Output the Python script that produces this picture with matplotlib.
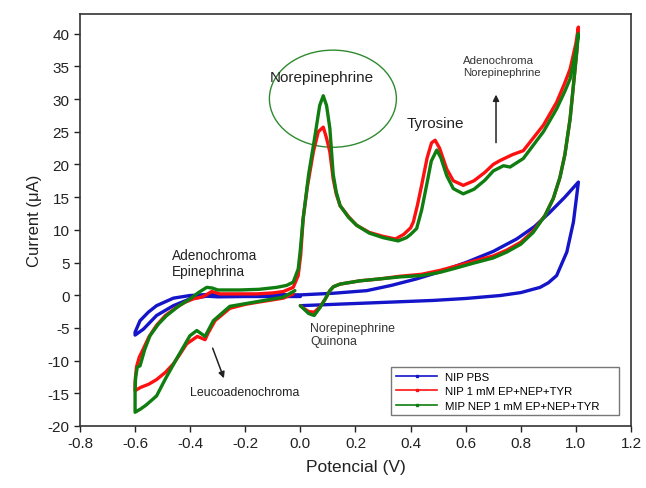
import matplotlib
matplotlib.use('Agg')
import matplotlib.pyplot as plt
from matplotlib.patches import Ellipse
from matplotlib.lines import Line2D

plt.rcParams['font.family'] = ['Liberation Sans', 'DejaVu Sans']
plt.rcParams['axes.unicode_minus'] = False

# NIP PBS (blue): cathodic 0 -> -0.6, anodic -0.6 -> 1.0, cathodic 1.0 -> 0
blue_x = [0.0, -0.1, -0.2, -0.3, -0.34, -0.401, -0.461, -0.522, -0.570, -0.600,
          -0.600, -0.582, -0.552, -0.522, -0.461, -0.401, -0.34, -0.2, -0.1, 0.0,
          0.12, 0.241, 0.33, 0.422, 0.5, 0.604, 0.7, 0.785, 0.85, 0.906, 0.96, 1.009,
          1.003, 0.991, 0.967, 0.93, 0.90, 0.870, 0.80, 0.725, 0.60, 0.482, 0.241, 0.0]
blue_y = [-0.2, -0.2, -0.2, -0.25, -0.15, -0.56, -1.6, -3.1, -5.2, -6.1,
          -5.66, -3.9, -2.6, -1.6, -0.45, -0.05, 0.1, 0.1, 0.1, 0.05,
          0.3, 0.7, 1.5, 2.5, 3.5, 5.05, 6.7, 8.6, 10.5, 12.7, 15.0, 17.3,
          15.25, 11.2, 6.6, 3.0, 1.9, 1.2, 0.4, -0.05, -0.5, -0.8, -1.2, -1.6]

# NIP 1 mM EP+NEP+TYR (red)
red_x = [-0.026, -0.062, -0.159, -0.20, -0.256, -0.310, -0.335, -0.346, -0.374, -0.413,
         -0.44, -0.461, -0.49, -0.522, -0.55, -0.58, -0.600,
         -0.600, -0.595, -0.585, -0.57, -0.55, -0.522, -0.49, -0.449, -0.42, -0.389,
         -0.36, -0.346, -0.322, -0.292, -0.22, -0.159, -0.10, -0.062, -0.026, -0.008,
         0.001, 0.01, 0.025, 0.047, 0.065, 0.083, 0.095, 0.107, 0.119, 0.13, 0.144,
         0.175, 0.204, 0.25, 0.30, 0.345, 0.375, 0.40, 0.41, 0.425, 0.44, 0.46,
         0.476, 0.489, 0.505, 0.531, 0.555, 0.591, 0.63, 0.67, 0.70, 0.725, 0.77,
         0.809, 0.882, 0.93, 0.96, 0.979, 1.0, 1.009,
         1.003, 0.991, 0.979, 0.96, 0.942, 0.918, 0.888, 0.845, 0.80, 0.749, 0.70,
         0.628, 0.56, 0.507, 0.44, 0.362, 0.29, 0.216, 0.144, 0.12, 0.107, 0.09,
         0.071, 0.05, 0.03, 0.015, 0.0]
red_y = [0.2, -0.45, -1.1, -1.4, -2.0, -3.9, -5.8, -6.8, -6.3, -7.45,
         -9.2, -10.5, -11.8, -12.9, -13.6, -14.1, -14.6,
         -13.3, -11.0, -9.5, -8.2, -6.4, -4.6, -3.1, -1.85, -1.1, -0.56,
         -0.3, -0.05, 0.56, 0.2, 0.2, 0.2, 0.35, 0.56, 1.2, 3.0,
         6.1, 11.7, 16.5, 21.9, 25.0, 25.7, 24.0, 21.9, 17.8, 15.5, 13.7,
         12.0, 10.7, 9.6, 9.0, 8.6, 9.3, 10.3, 11.2, 13.8, 16.8, 21.0,
         23.3, 23.7, 22.5, 19.3, 17.5, 16.8, 17.5, 18.8, 20.0, 20.6, 21.5,
         22.1, 26.0, 29.5, 32.5, 34.6, 38.5, 41.0,
         37.2, 32.1, 27.0, 21.5, 18.0, 14.8, 12.2, 9.8, 8.1, 6.9, 6.0,
         5.2, 4.4, 3.8, 3.2, 2.9, 2.5, 2.2, 1.7, 1.3, 0.7, -0.6,
         -1.8, -2.6, -2.5, -2.1, -1.6]

# MIP NEP 1 mM EP+NEP+TYR (green)
green_x = [-0.020, -0.062, -0.159, -0.256, -0.316, -0.346, -0.376, -0.401, -0.449,
           -0.49, -0.522, -0.56, -0.58, -0.600,
           -0.600, -0.598, -0.592, -0.582, -0.565, -0.546, -0.515, -0.485, -0.44,
           -0.40, -0.37, -0.34, -0.32, -0.30, -0.219, -0.15, -0.086, -0.05, -0.026,
           -0.008, -0.001, 0.01, 0.03, 0.053, 0.07, 0.083, 0.095, 0.107, 0.119, 0.13,
           0.144, 0.175, 0.204, 0.25, 0.30, 0.355, 0.385, 0.40, 0.422, 0.44, 0.458,
           0.475, 0.495, 0.51, 0.531, 0.555, 0.591, 0.63, 0.67, 0.70, 0.737, 0.761,
           0.809, 0.882, 0.93, 0.96, 0.979, 1.0, 1.009,
           1.003, 0.991, 0.979, 0.96, 0.942, 0.918, 0.888, 0.845, 0.80, 0.749, 0.70,
           0.628, 0.56, 0.507, 0.44, 0.362, 0.29, 0.216, 0.144, 0.12, 0.107, 0.09,
           0.071, 0.05, 0.03, 0.015, 0.0]
green_y = [0.7, -0.3, -1.0, -1.7, -3.9, -6.3, -5.4, -6.2, -9.7,
           -12.8, -15.4, -16.8, -17.4, -17.9,
           -14.5, -12.5, -11.0, -10.8, -8.3, -6.2, -4.4, -3.1, -1.6,
           -0.56, 0.4, 1.2, 1.1, 0.8, 0.8, 0.9, 1.2, 1.5, 2.0,
           4.0, 6.6, 11.7, 18.5, 24.4, 29.0, 30.5, 29.0, 25.5, 18.5, 15.8,
           13.7, 11.9, 10.7, 9.5, 8.8, 8.3, 8.8, 9.3, 10.2, 13.0, 16.8,
           20.5, 22.2, 21.0, 18.3, 16.3, 15.5, 16.2, 17.6, 19.0, 19.8, 19.6,
           20.9, 25.0, 28.5, 31.2, 33.1, 37.5, 40.0,
           37.2, 32.1, 27.0, 21.5, 18.0, 14.8, 12.2, 9.6, 7.8, 6.6, 5.7,
           4.9, 4.1, 3.5, 3.0, 2.8, 2.5, 2.2, 1.7, 1.3, 0.7, -0.6,
           -1.9, -3.1, -2.8, -2.2, -1.6]

labels = ['NIP PBS', 'NIP 1 mM EP+NEP+TYR', 'MIP NEP 1 mM EP+NEP+TYR']
colors = ['#1414c8', '#ff1010', '#0f7d0f']

fig = plt.figure(figsize=(6.46, 4.89), dpi=100)
ax = fig.add_axes([0.1238, 0.1268, 0.8530, 0.8425])

for xs, ys, c in [(blue_x, blue_y, colors[0]), (red_x, red_y, colors[1]),
                  (green_x, green_y, colors[2])]:
    ax.plot(xs, ys, color=c, lw=2.4, solid_joinstyle='round', solid_capstyle='round')

ax.set_xlim(-0.8, 1.2)
ax.set_ylim(-20, 43)
ax.set_xticks([-0.8, -0.6, -0.4, -0.2, 0.0, 0.2, 0.4, 0.6, 0.8, 1.0, 1.2])
ax.set_xticklabels(['-0.8', '-0.6', '-0.4', '-0.2', '0.0', '0.2', '0.4', '0.6',
                    '0.8', '1.0', '1.2'])
ax.set_yticks(range(-20, 41, 5))
ax.tick_params(direction='out', length=4, width=1, labelsize=11, colors='#222222')
ax.tick_params(top=False, right=False)
for s in ax.spines.values():
    s.set_linewidth(1.2)
    s.set_color('#333333')

ax.set_xlabel('Potencial (V)', fontsize=12.5, color='#222222', labelpad=6)
ax.set_ylabel('Current (\u03bcA)', fontsize=12, color='#222222', labelpad=4)

# annotations
ax.add_patch(Ellipse((0.118, 30.05), 0.461, 14.85, fill=False, ec='#2f8a2f', lw=1.0))
ax.text(0.077, 33.4, 'Norepinephrine', fontsize=11, ha='center', va='center', color='#222222')
ax.text(0.489, 26.4, 'Tyrosine', fontsize=11, ha='center', va='center', color='#222222')
ax.text(0.590, 35.0, 'Adenochroma\nNorepinephrine', fontsize=8.2, ha='left', va='center',
        color='#333333', linespacing=1.25)
ax.annotate('', xy=(0.71, 31.1), xytext=(0.71, 22.9),
            arrowprops=dict(arrowstyle='-|>', color='#222222', lw=1.1, mutation_scale=9))
ax.text(-0.467, 4.87, 'Adenochroma\nEpinephrina', fontsize=9.8, ha='left', va='center',
        color='#222222', linespacing=1.2)
ax.text(-0.40, -14.8, 'Leucoadenochroma', fontsize=8.9, ha='left', va='center', color='#222222')
ax.annotate('', xy=(-0.274, -13.1), xytext=(-0.322, -7.7),
            arrowprops=dict(arrowstyle='-|>', color='#222222', lw=1.1, mutation_scale=9))
ax.text(0.035, -6.0, 'Norepinephrine\nQuinona', fontsize=8.9, ha='left', va='center',
        color='#333333', linespacing=1.2)

handles = [Line2D([], [], color=c, lw=1.2, marker='s', markersize=2) for c in colors]
leg = fig.legend(handles, labels, loc='center', mode='expand',
                 bbox_to_anchor=(0.606, 0.151, 0.352, 0.0935),
                 fontsize=8.2, frameon=True, fancybox=False, edgecolor='#555555',
                 handlelength=3.6, labelspacing=0.38, borderpad=0.4, handletextpad=0.7,
                 borderaxespad=0)
leg.get_frame().set_linewidth(1.0)
leg.set_zorder(5)

fig.savefig('out.png', dpi=100)
